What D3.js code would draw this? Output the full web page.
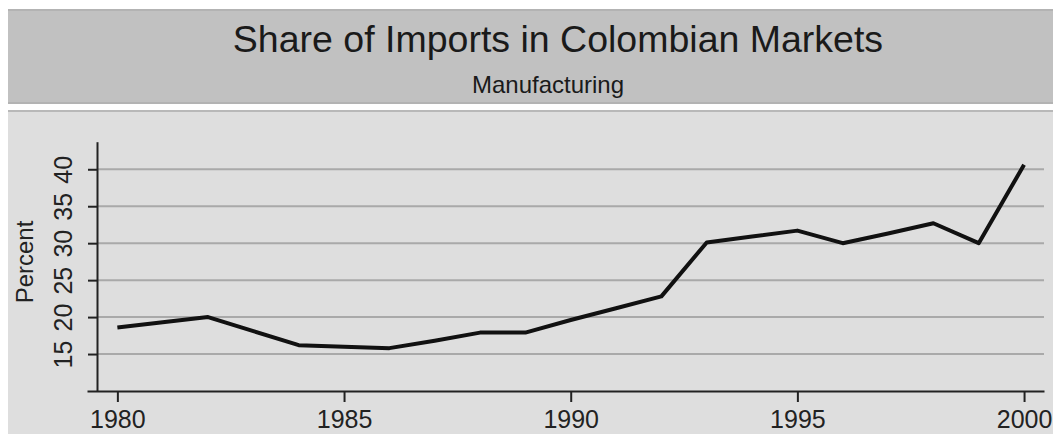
<!DOCTYPE html>
<html lang="en">
<head>
  <meta charset="UTF-8">
  <title>Share of Imports in Colombian Markets</title>
  <script src="https://d3js.org/d3.v7.min.js"></script>
  <style>
    body { margin: 0; background: #fff; }
    svg { display: block; font-family: "Liberation Sans", Arial, sans-serif; }
    .grid line { stroke: #a9a9a9; stroke-width: 2; }
    .axis path, .axis line { stroke: #222; stroke-width: 2; }
    .axis text { fill: #222; font-size: 25px; }
  </style>
</head>
<body>
<svg width="1053" height="434"></svg>
<script>
const years = d3.range(1980, 2001);
const percent = [18.6, 19.3, 20.0, 18.1, 16.2, 16.0, 15.8, 16.8, 17.9, 17.9,
                 19.6, 21.2, 22.8, 30.1, 30.9, 31.7, 30.0, 31.3, 32.7, 30.0, 40.6];
const yTicks = [15, 20, 25, 30, 35, 40];
const xTicks = [1980, 1985, 1990, 1995, 2000];

const svg = d3.select("svg");

// header band
svg.append("rect").attr("x", 8).attr("y", 9).attr("width", 1045).attr("height", 95)
  .attr("fill", "#c1c1c1");
svg.append("rect").attr("x", 8).attr("y", 9).attr("width", 1045).attr("height", 2)
  .attr("fill", "#b3b3b3");
svg.append("rect").attr("x", 8).attr("y", 102).attr("width", 1045).attr("height", 2)
  .attr("fill", "#b3b3b3");

// plot panel
svg.append("rect").attr("x", 8).attr("y", 110).attr("width", 1045).attr("height", 324)
  .attr("fill", "#dedede");
svg.append("rect").attr("x", 8).attr("y", 110).attr("width", 1045).attr("height", 2)
  .attr("fill", "#b8b8b8");

svg.append("text").attr("x", 558).attr("y", 52).attr("text-anchor", "middle")
  .attr("font-size", 37.5).attr("fill", "#1a1a1a")
  .text("Share of Imports in Colombian Markets");
svg.append("text").attr("x", 548).attr("y", 93).attr("text-anchor", "middle")
  .attr("font-size", 24).attr("fill", "#1a1a1a")
  .text("Manufacturing");

const x = d3.scaleLinear().domain([1979.33, 2000.44]).range([87, 1044]);
const y = d3.scaleLinear().domain([10, 43.73]).range([391, 141.7]);

// gridlines
svg.append("g").attr("class", "grid")
  .selectAll("line").data(yTicks).join("line")
  .attr("x1", 97).attr("x2", 1044)
  .attr("y1", d => y(d)).attr("y2", d => y(d));

// y axis
const yAxis = svg.append("g").attr("class", "axis")
  .attr("transform", "translate(97,0)")
  .call(d3.axisLeft(y).tickValues(yTicks).tickSize(9).tickSizeOuter(0).tickPadding(0));
yAxis.selectAll("text")
  .attr("transform", "rotate(-90)")
  .attr("text-anchor", "middle")
  .attr("x", 0)
  .attr("y", -25)
  .attr("dy", 0);

// x axis
const xAxis = svg.append("g").attr("class", "axis")
  .attr("transform", "translate(0,391)")
  .call(d3.axisBottom(x).tickValues(xTicks).tickFormat(d3.format("d"))
    .tickSize(11).tickSizeOuter(0).tickPadding(0));
xAxis.selectAll("text").attr("y", 37).attr("dy", 0);

svg.append("text")
  .attr("transform", "translate(33,262) rotate(-90)")
  .attr("text-anchor", "middle").attr("font-size", 24).attr("fill", "#222")
  .text("Percent");

// series
svg.append("path")
  .datum(years.map((yr, i) => [yr, percent[i]]))
  .attr("fill", "none").attr("stroke", "#111").attr("stroke-width", 4)
  .attr("stroke-linejoin", "round")
  .attr("d", d3.line().x(d => x(d[0])).y(d => y(d[1])));
</script>
</body>
</html>
